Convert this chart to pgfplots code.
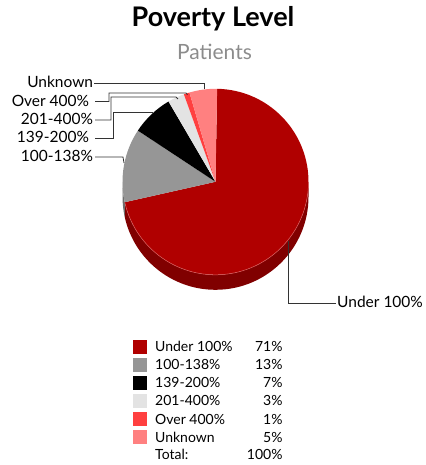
\documentclass[border=0pt]{standalone}
\usepackage{fontspec}
\setmainfont{Lato}
\usepackage{pgfplots}
\usepackage{pgfplotstable}
\pgfplotsset{compat=1.18}
\definecolor{s0}{HTML}{B00000}
\definecolor{s1}{HTML}{969696}
\definecolor{s2}{HTML}{000000}
\definecolor{s3}{HTML}{E3E3E3}
\definecolor{s4}{HTML}{FF4040}
\definecolor{s5}{HTML}{FF8080}
\definecolor{d0}{HTML}{800000}
\definecolor{d1}{HTML}{6E6E6E}
\definecolor{d2}{HTML}{000000}
\definecolor{d3}{HTML}{A8A8A8}
\definecolor{d4}{HTML}{C03030}
\definecolor{d5}{HTML}{C06060}
\definecolor{rim}{HTML}{D86060}
\definecolor{subgrey}{HTML}{8C8C8C}
\definecolor{conn}{HTML}{333333}

\pgfplotstableread[col sep=comma]{
label,value,pct
Under 100\%,71.2,71
100-138\%,12.8,13
139-200\%,7.3,7
201-400\%,2.9,3
Over 400\%,1.0,1
Unknown,4.8,5
}\piedata

\begin{document}
\begin{tikzpicture}
\begin{axis}[hide axis, scale only axis, width=425pt, height=465pt,
  xmin=0, xmax=425, ymin=0, ymax=465, clip=false]
\path (axis cs:0,0) rectangle (axis cs:425,465);
\def\cx{215.5}\def\cy{283.2}\def\R{93}\def\D{15}
% --- sides of the pie (front half only)
\pgfmathsetmacro\start{89}
\pgfplotsforeachungrouped \i in {0,...,5}{%
  \pgfplotstablegetelem{\i}{value}\of\piedata
  \pgfmathsetmacro\a{\start}%
  \pgfmathsetmacro\b{\start-3.6*\pgfplotsretval}%
  \pgfmathsetmacro\lo{max(\b,-180)}%
  \pgfmathsetmacro\hi{min(\a,0)}%
  \pgfmathtruncatemacro\vis{\hi>\lo}%
  \ifnum\vis=1
    \edef\temp{\noexpand\fill[d\i] (axis cs:\cx,\cy) ++(\lo:\R pt) arc[start angle=\lo, end angle=\hi, radius=\R pt] -- ++(0,-\D pt) arc[start angle=\hi, end angle=\lo, radius=\R pt] -- cycle;}%
    \temp
  \fi
  \pgfmathsetmacro\start{\b}%
}
% --- top faces
\pgfmathsetmacro\start{89}
\pgfplotsforeachungrouped \i in {0,...,5}{%
  \pgfplotstablegetelem{\i}{value}\of\piedata
  \pgfmathsetmacro\a{\start}%
  \pgfmathsetmacro\b{\start-3.6*\pgfplotsretval}%
  \edef\temp{\noexpand\fill[s\i] (axis cs:\cx,\cy) -- ++(\a:\R pt) arc[start angle=\a, end angle=\b, radius=\R pt] -- cycle;}%
  \temp
  \pgfmathsetmacro\start{\b}%
}
% --- rim highlight on the front edge of the largest slice
\pgfmathsetmacro\start{89}
\pgfplotsforeachungrouped \i in {0}{%
  \pgfplotstablegetelem{\i}{value}\of\piedata
  \pgfmathsetmacro\b{\start-3.6*\pgfplotsretval}%
  \pgfmathsetmacro\lo{max(\b,-180)}%
  \edef\temp{\noexpand\draw[rim, line width=0.5pt] (axis cs:\cx,\cy) ++(\lo:\R pt) arc[start angle=\lo, end angle=0, radius=\R pt];}%
  \temp
}
% --- titles
\node[anchor=base, inner sep=0, font=\fontsize{27}{32}\selectfont\bfseries] at (axis cs:213,438) {Poverty Level};
\node[anchor=base, inner sep=0, text=subgrey, font=\fontsize{21}{26}\selectfont] at (axis cs:214.5,405) {Patients};
% --- connectors
\begin{scope}[conn, line width=0.8pt]
\draw (axis cs:94,382) -- (axis cs:204,382) -- (axis cs:204,376);
\draw (axis cs:95,363.5) -- (axis cs:109,363.5) -- (axis cs:109,372) -- (axis cs:186,372) -- (axis cs:187.5,370);
\draw (axis cs:95,345) -- (axis cs:111,345) -- (axis cs:111,368) -- (axis cs:176,368) -- (axis cs:178,366);
\draw (axis cs:95,327) -- (axis cs:113,327) -- (axis cs:113,352.5) -- (axis cs:153,352.5);
\draw (axis cs:95,308) -- (axis cs:123,308) -- (axis cs:124,302);
\draw (axis cs:288,224) -- (axis cs:288,162) -- (axis cs:336,162);
\end{scope}
% --- slice labels
\begin{scope}[every node/.style={inner sep=0, font=\fontsize{15.5}{18}\selectfont}]
\node[anchor=base east] at (axis cs:93.3,377) {Unknown};
\node[anchor=base east] at (axis cs:89.3,358.5) {Over 400\%};
\node[anchor=base east] at (axis cs:93.3,340) {201-400\%};
\node[anchor=base east] at (axis cs:89.3,322) {139-200\%};
\node[anchor=base east] at (axis cs:93.3,303) {100-138\%};
\node[anchor=base west] at (axis cs:337,157) {Under 100\%};
\end{scope}
% --- legend table
\pgfplotsforeachungrouped \i in {0,...,5}{%
  \pgfplotstablegetelem{\i}{label}\of\piedata \let\lab\pgfplotsretval
  \pgfplotstablegetelem{\i}{pct}\of\piedata \let\pc\pgfplotsretval
  \pgfmathsetmacro\yy{465-346.7-18.1*\i}%
  \pgfmathsetmacro\yb{\yy-5}%
  \edef\temp{\noexpand\fill[s\i] (axis cs:133,\yy) ++(0,-7pt) rectangle ++(14pt,14pt);
    \noexpand\node[anchor=base west, inner sep=0, font=\noexpand\fontsize{14}{17}\noexpand\selectfont] at (axis cs:155,\yb) {\lab};
    \noexpand\node[anchor=base east, inner sep=0, font=\noexpand\fontsize{14}{17}\noexpand\selectfont] at (axis cs:282.7,\yb) {\pc\noexpand\%};}%
  \temp
}
\node[anchor=base west, inner sep=0, font=\fontsize{14}{17}\selectfont] at (axis cs:155,5.7) {Total:};
\node[anchor=base east, inner sep=0, font=\fontsize{14}{17}\selectfont] at (axis cs:282.7,5.7) {100\%};
\end{axis}
\end{tikzpicture}
\end{document}
